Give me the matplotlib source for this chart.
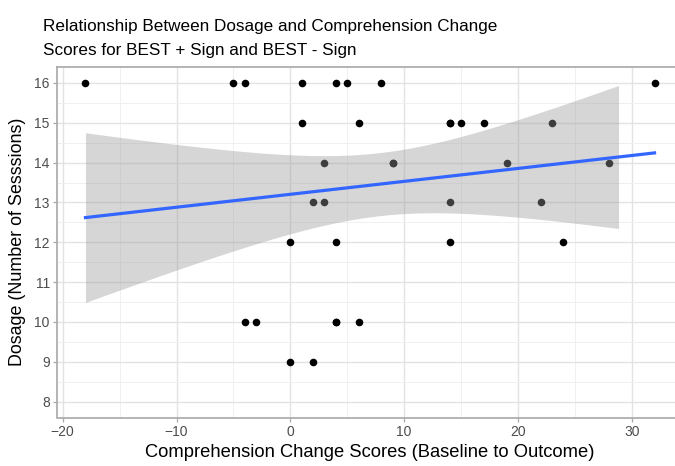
import numpy as np
import matplotlib
matplotlib.use("Agg")
import matplotlib.pyplot as plt
from matplotlib.ticker import MultipleLocator

# Comprehension change score and dosage for each participant
# (several participants share identical values and overlap on the plot)
change_scores = [-18, -5, -4, 1, 4, 5, 8, 32,
                 1, 6, 14, 14, 15, 17, 23,
                 3, 9, 9, 19, 28,
                 2, 3, 14, 22,
                 0, 4, 14, 24,
                 -4, -3, 4, 4, 6,
                 0, 2]
dosage = [16, 16, 16, 16, 16, 16, 16, 16,
          15, 15, 15, 15, 15, 15, 15,
          14, 14, 14, 14, 14,
          13, 13, 13, 13,
          12, 12, 12, 12,
          10, 10, 10, 10, 10,
          9, 9]

x_ticks = [-20, -10, 0, 10, 20, 30]
y_ticks = [8, 9, 10, 11, 12, 13, 14, 15, 16]
y_limits = (8, 16)

title_lines = ['Relationship Between Dosage and Comprehension Change',
               'Scores for BEST + Sign and BEST - Sign']
x_label = 'Comprehension Change Scores (Baseline to Outcome)'
y_label = 'Dosage (Number of Sesssions)'

x = np.asarray(change_scores, dtype=float)
y = np.asarray(dosage, dtype=float)

# Ordinary least squares fit with a 95% confidence band
n = len(x)
slope, intercept = np.polyfit(x, y, 1)
resid = y - (intercept + slope * x)
s = np.sqrt(np.sum(resid ** 2) / (n - 2))
sxx = np.sum((x - x.mean()) ** 2)
t_crit = 2.0345  # t(0.975, df = 33)
xs = np.linspace(x.min(), x.max(), 80)
fit = intercept + slope * xs
se = s * np.sqrt(1.0 / n + (xs - x.mean()) ** 2 / sxx)
lower = fit - t_crit * se
upper = fit + t_crit * se
# band rows falling outside the y limits are dropped
inside = (lower >= y_limits[0]) & (upper <= y_limits[1])

W, H = 675, 466
plt.rcParams['font.family'] = ['Liberation Sans', 'DejaVu Sans']
fig = plt.figure(figsize=(W / 100, H / 100), dpi=100)

left, right, top, bottom = 57, 683, 67, 417.5
ax = fig.add_axes([left / W, 1 - bottom / H, (right - left) / W, (bottom - top) / H])

xr = x.max() - x.min()
ax.set_xlim(x.min() - 0.05 * xr, x.max() + 0.05 * xr)
yr = y_limits[1] - y_limits[0]
ax.set_ylim(y_limits[0] - 0.05 * yr, y_limits[1] + 0.05 * yr)

ax.set_xticks(x_ticks)
ax.set_yticks(y_ticks)
ax.xaxis.set_minor_locator(MultipleLocator(5))
ax.yaxis.set_minor_locator(MultipleLocator(0.5))
ax.grid(which='major', color='#E3E3E3', linewidth=1.0)
ax.grid(which='minor', color='#F0F0F0', linewidth=0.7)
ax.set_axisbelow(True)
ax.tick_params(which='minor', length=0)
ax.tick_params(which='major', length=3.2, width=0.9, color='#A8A8A8',
               labelsize=10, labelcolor='#4D4D4D', pad=2)
for side, sp in ax.spines.items():
    sp.set_color('#A8A8A8')
    sp.set_linewidth(1.2)

ax.scatter(x, y, s=30, color='black', linewidths=0, zorder=3)
ax.fill_between(xs[inside], lower[inside], upper[inside], color='#999999',
                alpha=0.4, linewidth=0, zorder=4)
ax.plot(xs, fit, color='#3366FF', linewidth=2.3, zorder=5)

ax.set_xlabel(x_label, fontsize=13.2, color='black', labelpad=4)
ax.set_ylabel(y_label, fontsize=12.9, color='black', labelpad=6)

fig.text(43 / W, 1 - 31.5 / H, title_lines[0], fontsize=12.3, va='baseline', ha='left')
fig.text(43 / W, 1 - 54.5 / H, title_lines[1], fontsize=12.3, va='baseline', ha='left')

fig.savefig('out.png', dpi=100)
